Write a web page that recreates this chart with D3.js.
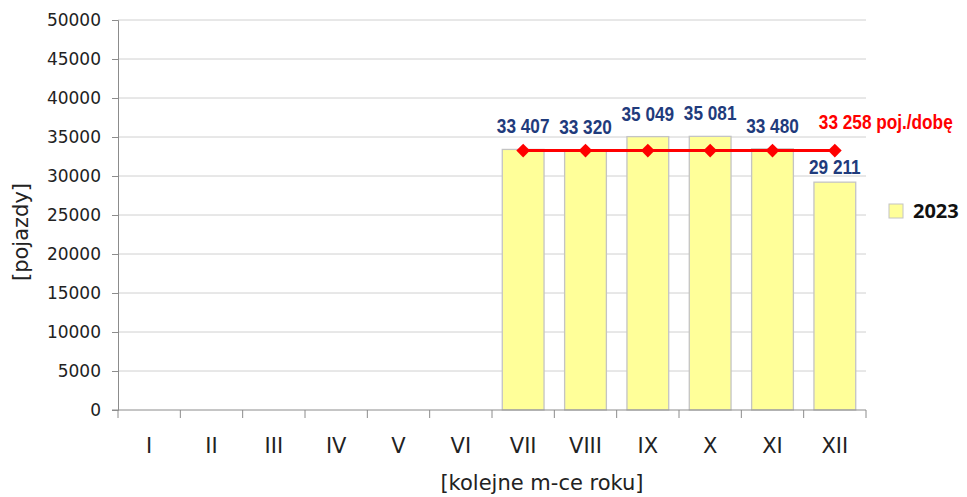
<!DOCTYPE html>
<html>
<head>
<meta charset="utf-8">
<script src="https://cdn.jsdelivr.net/npm/d3@7"></script>
<style>
  html, body { margin: 0; padding: 0; background: #fff; }
  svg { display: block; }
</style>
</head>
<body>
<svg id="chart" width="967" height="497"></svg>
<script>
const months = ["I", "II", "III", "IV", "V", "VI", "VII", "VIII", "IX", "X", "XI", "XII"];
const values2023 = [null, null, null, null, null, null, 33407, 33320, 35049, 35081, 33480, 29211];
const averageValue = 33258;
const yTicks = [0, 5000, 10000, 15000, 20000, 25000, 30000, 35000, 40000, 45000, 50000];
const seriesName = "2023";
const averageLabel = "33 258 poj./dobę";
const xTitle = "[kolejne m-ce roku]";
const yTitle = "[pojazdy]";

(function () {
const svg = d3.select("#chart");
const pLeft = 118, pRight = 866, pTop = 20, pBottom = 410;
const narrow = 0.82;

const x = d3.scaleBand().domain(months).range([pLeft, pRight]).paddingInner(0.33).paddingOuter(0.165);
const xb = d3.scaleBand().domain(months).range([pLeft, pRight]);
const y = d3.scaleLinear().domain([0, 50000]).range([pBottom, pTop]);

const fmt = v => d3.format(",")(v).replace(/,/g, " ");

// gridlines
svg.append("g").selectAll("line").data(yTicks.filter(t => t > 0)).join("line")
  .attr("x1", pLeft).attr("x2", pRight)
  .attr("y1", d => y(d)).attr("y2", d => y(d))
  .attr("stroke", "#d0d0d0").attr("stroke-width", 1);

// y axis
const yAxis = svg.append("g").attr("transform", `translate(${pLeft},0)`)
  .call(d3.axisLeft(y).tickValues(yTicks).tickSize(6).tickPadding(11).tickFormat(d3.format("d")));
yAxis.select(".domain").attr("stroke", "#8c8c8c");
yAxis.selectAll(".tick line").attr("stroke", "#8c8c8c");
yAxis.selectAll(".tick text").attr("font-family", "DejaVu Sans, sans-serif").attr("font-size", 17).attr("fill", "#222");

// bars
const barData = months.map((m, i) => ({ m, v: values2023[i] })).filter(d => d.v != null);
svg.append("g").selectAll("rect").data(barData).join("rect")
  .attr("x", d => x(d.m)).attr("width", x.bandwidth())
  .attr("y", d => y(d.v)).attr("height", d => pBottom - y(d.v))
  .attr("fill", "#ffff99").attr("stroke", "#c4c4c4").attr("stroke-width", 1.3);

// x axis
const xAxisG = svg.append("g").attr("transform", `translate(0,${pBottom})`);
xAxisG.append("line").attr("x1", pLeft - 6).attr("x2", pRight).attr("y1", 0).attr("y2", 0).attr("stroke", "#8c8c8c");
xAxisG.selectAll("line.tk").data(months.concat(["end"])).join("line").attr("class", "tk")
  .attr("x1", (d, i) => pLeft + i * xb.step()).attr("x2", (d, i) => pLeft + i * xb.step())
  .attr("y1", 0).attr("y2", 8).attr("stroke", "#8c8c8c");
xAxisG.selectAll("text").data(months).join("text")
  .attr("x", d => xb(d) + xb.bandwidth() / 2).attr("y", 43)
  .attr("text-anchor", "middle")
  .attr("font-family", "DejaVu Sans, sans-serif").attr("font-size", 21).attr("fill", "#222")
  .text(d => d);

// average line
const avgData = barData.map(d => ({ m: d.m, v: averageValue }));
svg.append("path").datum(avgData)
  .attr("d", d3.line().x(d => x(d.m) + x.bandwidth() / 2).y(d => y(d.v)))
  .attr("fill", "none").attr("stroke", "#ff0000").attr("stroke-width", 3);
svg.append("g").selectAll("path").data(avgData).join("path")
  .attr("transform", d => `translate(${x(d.m) + x.bandwidth() / 2},${y(d.v)})`)
  .attr("d", d3.symbol(d3.symbolDiamond2, 120)())
  .attr("fill", "#ff0000");

// value labels (condensed bold)
const lastIdx = barData.length - 1;
svg.append("g").selectAll("text").data(barData).join("text")
  .attr("transform", (d, i) => `translate(${x(d.m) + x.bandwidth() / 2},${y(d.v) - (i === lastIdx ? 8 : 16)}) scale(${narrow},1)`)
  .attr("text-anchor", "middle")
  .attr("font-family", "Liberation Sans, Arial, sans-serif")
  .attr("font-weight", "bold").attr("font-size", 21).attr("fill", "#1f3b7c")
  .text(d => fmt(d.v));

// average label
svg.append("text")
  .attr("transform", `translate(${x(months[months.length - 1]) + x.bandwidth() / 2 - 16},${y(averageValue) - 22}) scale(${narrow},1)`)
  .attr("text-anchor", "start")
  .attr("font-family", "Liberation Sans, Arial, sans-serif")
  .attr("font-weight", "bold").attr("font-size", 21).attr("fill", "#ff0000")
  .text(averageLabel);

// legend
const lg = svg.append("g").attr("transform", "translate(889,204)");
lg.append("rect").attr("width", 14).attr("height", 14).attr("fill", "#ffff99").attr("stroke", "#c4c4c4");
lg.append("text").attr("x", 24).attr("y", 14)
  .attr("font-family", "Open Sans, sans-serif").attr("font-weight", "bold").attr("font-size", 20).attr("fill", "#111")
  .text(seriesName);

// axis titles
svg.append("text").attr("x", 542).attr("y", 490).attr("text-anchor", "middle")
  .attr("font-family", "DejaVu Sans, sans-serif").attr("font-size", 21).attr("fill", "#222")
  .text(xTitle);
svg.append("text").attr("transform", "translate(28,232) rotate(-90)").attr("text-anchor", "middle")
  .attr("font-family", "DejaVu Sans, sans-serif").attr("font-size", 21).attr("fill", "#222")
  .text(yTitle);
})();
</script>
</body>
</html>
